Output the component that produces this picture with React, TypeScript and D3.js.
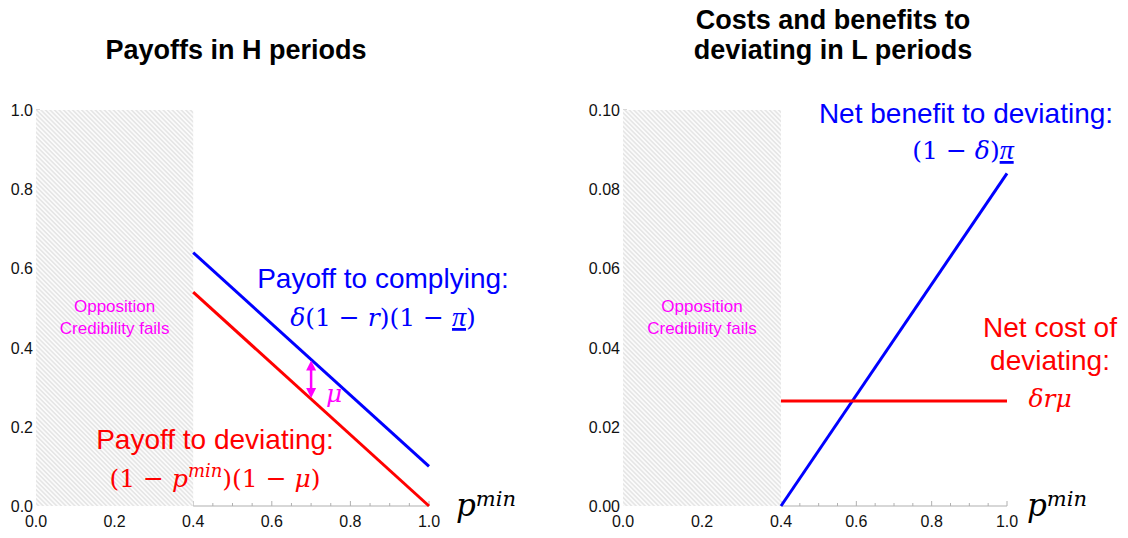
import React from "react";
import * as d3 from "d3";

// ---- data ----
const pMin = [0.4, 1.0];
const leftComply = [0.64, 0.1];
const leftDeviate = [0.54, 0.0];
const rightBenefit = [0.0, 0.084];
const rightCost = [0.0265, 0.0265];
const hatchRange = [0.0, 0.4];
const muArrowAt = 0.7;
const xTickValues = [0.0, 0.2, 0.4, 0.6, 0.8, 1.0];
const xTickLabels = ["0.0", "0.2", "0.4", "0.6", "0.8", "1.0"];
const xMinorTicks = [0.45, 0.5, 0.55, 0.65, 0.7, 0.75, 0.85, 0.9, 0.95];
const xMajorAxisTicks = [0.4, 0.6, 0.8, 1.0];
const yTicksLeft = [0.0, 0.2, 0.4, 0.6, 0.8, 1.0];
const yLabelsLeft = ["0.0", "0.2", "0.4", "0.6", "0.8", "1.0"];
const yTicksRight = [0.0, 0.02, 0.04, 0.06, 0.08, 0.1];
const yLabelsRight = ["0.00", "0.02", "0.04", "0.06", "0.08", "0.10"];

const BLUE = "#0000ff";
const RED = "#ff0000";
const MAG = "#ff00ff";
const SANS = "'Liberation Sans', Arial, sans-serif";
const MATH = "'DejaVu Serif', 'Liberation Serif', serif";
const PI_FONT = "'Liberation Serif', serif";

function Axes({ x, y, yTicks, yLabels, labelDx }: any) {
  const y0 = y(0);
  return (
    <g>
      <line x1={x(0.4)} x2={x(1)} y1={y0} y2={y0} stroke="#b0b0b0" strokeWidth={1.2} />
      {xMajorAxisTicks.map((t) => (
        <line key={"M" + t} x1={x(t)} x2={x(t)} y1={y0} y2={y0 - 5} stroke="#b0b0b0" strokeWidth={1} />
      ))}
      {xMinorTicks.map((t) => (
        <line key={"m" + t} x1={x(t)} x2={x(t)} y1={y0} y2={y0 - 3} stroke="#b0b0b0" strokeWidth={1} />
      ))}
      {xTickValues.map((t, i) => (
        <text key={"xl" + t} x={x(t)} y={y0 + 21} textAnchor="middle" fontFamily={SANS} fontSize={16} fill="#111">
          {xTickLabels[i]}
        </text>
      ))}
      {yTicks.map((t: number, i: number) => (
        <text key={"yl" + t} x={x(0) - 3} y={y(t) + 6} textAnchor="end" fontFamily={SANS} fontSize={16} fill="#111">
          {yLabels[i]}
        </text>
      ))}
      <line x1={x(0)} x2={x(0) + 4} y1={y(yTicks[yTicks.length - 1])} y2={y(yTicks[yTicks.length - 1])} stroke="#b0b0b0" strokeWidth={1} />
      <text x={x(1) + labelDx} y={y0 + 10} fontFamily={MATH} fontStyle="italic" fill="#000">
        <tspan fontSize={31}>p</tspan>
        <tspan fontSize={21} dy={-10}>min</tspan>
      </text>
    </g>
  );
}

function Hatch({ x, y, yTop }: any) {
  const x0 = x(hatchRange[0]);
  const x1 = x(hatchRange[1]);
  const cx = (x0 + x1) / 2;
  return (
    <g>
      <rect x={x0} y={y(yTop)} width={x1 - x0} height={y(0) - y(yTop)} fill="url(#hatch)" />
      <text x={cx} y={312} textAnchor="middle" fontFamily={SANS} fontSize={17} fill={MAG}>Opposition</text>
      <text x={cx} y={334} textAnchor="middle" fontFamily={SANS} fontSize={17} fill={MAG}>Credibility fails</text>
    </g>
  );
}

export default function App() {
  const xL = d3.scaleLinear().domain([0, 1]).range([36, 429]);
  const yL = d3.scaleLinear().domain([0, 1]).range([506, 110]);
  const xR = d3.scaleLinear().domain([0, 0.4, 1]).range([623, 781, 1007]);
  const yR = d3.scaleLinear().domain([0, 0.1]).range([506, 110]);

  const complyPath = d3.line<number>().x((_, i) => xL(pMin[i])).y((v) => yL(v))(leftComply) || "";
  const deviatePath = d3.line<number>().x((_, i) => xL(pMin[i])).y((v) => yL(v))(leftDeviate) || "";
  const benefitPath = d3.line<number>().x((_, i) => xR(pMin[i])).y((v) => yR(v))(rightBenefit) || "";
  const costPath = d3.line<number>().x((_, i) => xR(pMin[i])).y((v) => yR(v))(rightCost) || "";

  const complyAt = d3.scaleLinear().domain(pMin).range(leftComply)(muArrowAt);
  const deviateAt = d3.scaleLinear().domain(pMin).range(leftDeviate)(muArrowAt);
  const ax = xL(muArrowAt);
  const aTop = yL(complyAt);
  const aBot = yL(deviateAt);

  return (
    <svg width={1128} height={538} style={{ position: "fixed", left: 0, top: 0, background: "#fff" }}>
      <defs>
        <pattern id="hatch" patternUnits="userSpaceOnUse" width={3.2} height={3.2} patternTransform="rotate(45)">
          <rect width={3.2} height={3.2} fill="#fbfbfb" />
          <line x1={0} y1={0.8} x2={3.2} y2={0.8} stroke="#d6d6d6" strokeWidth={0.9} />
        </pattern>
      </defs>
      <rect width={1128} height={538} fill="#fff" />

      {/* Titles */}
      <text x={236} y={59} textAnchor="middle" fontFamily={SANS} fontWeight="bold" fontSize={27} fill="#000">Payoffs in H periods</text>
      <text x={833} y={29} textAnchor="middle" fontFamily={SANS} fontWeight="bold" fontSize={27} fill="#000">Costs and benefits to</text>
      <text x={833} y={59} textAnchor="middle" fontFamily={SANS} fontWeight="bold" fontSize={27} fill="#000">deviating in L periods</text>

      {/* Left panel */}
      <Axes x={xL} y={yL} yTicks={yTicksLeft} yLabels={yLabelsLeft} labelDx={27} />
      <Hatch x={xL} y={yL} yTop={1} />
      <path d={complyPath} stroke={BLUE} strokeWidth={3} fill="none" />
      <path d={deviatePath} stroke={RED} strokeWidth={3} fill="none" />
      <line x1={ax} x2={ax} y1={aTop + 9} y2={aBot - 9} stroke={MAG} strokeWidth={2.5} />
      <path d={`M${ax},${aTop + 1}l-5,10h10z`} fill={MAG} />
      <path d={`M${ax},${aBot - 1}l-5,-10h10z`} fill={MAG} />
      <text x={ax + 15} y={aBot + 3} fontFamily={MATH} fontStyle="italic" fontSize={25} fill={MAG}>μ</text>

      <text x={383} y={288} textAnchor="middle" fontFamily={SANS} fontSize={28} fill={BLUE}>Payoff to complying:</text>
      <text x={383} y={326} textAnchor="middle" fontFamily={MATH} fontSize={25} fill={BLUE}>
        <tspan fontStyle="italic">δ</tspan>(1 − <tspan fontStyle="italic">r</tspan>)(1 − <tspan fontFamily={PI_FONT} fontSize={28} fontStyle="italic" textDecoration="underline">π</tspan>)
      </text>

      <text x={215} y={449} textAnchor="middle" fontFamily={SANS} fontSize={28} fill={RED}>Payoff to deviating:</text>
      <text x={215} y={487} textAnchor="middle" fontFamily={MATH} fontSize={25} fill={RED}>
        (1 − <tspan fontStyle="italic">p</tspan><tspan fontStyle="italic" fontSize={18} dy={-10}>min</tspan><tspan dy={10}>)(1 − </tspan><tspan fontStyle="italic">μ</tspan>)
      </text>

      {/* Right panel */}
      <Axes x={xR} y={yR} yTicks={yTicksRight} yLabels={yLabelsRight} labelDx={20} />
      <Hatch x={xR} y={yR} yTop={0.1} />
      <path d={benefitPath} stroke={BLUE} strokeWidth={3} fill="none" />
      <path d={costPath} stroke={RED} strokeWidth={3} fill="none" />

      <text x={966} y={123} textAnchor="middle" fontFamily={SANS} fontSize={28} fill={BLUE}>Net benefit to deviating:</text>
      <text x={963} y={159} textAnchor="middle" fontFamily={MATH} fontSize={25} fill={BLUE}>
        (1 − <tspan fontStyle="italic">δ</tspan>)<tspan fontFamily={PI_FONT} fontSize={28} fontStyle="italic" textDecoration="underline">π</tspan>
      </text>

      <text x={1050} y={337} textAnchor="middle" fontFamily={SANS} fontSize={28} fill={RED}>Net cost of</text>
      <text x={1050} y={370} textAnchor="middle" fontFamily={SANS} fontSize={28} fill={RED}>deviating:</text>
      <text x={1050} y={407} textAnchor="middle" fontFamily={MATH} fontStyle="italic" fontSize={25} fill={RED}>δrμ</text>
    </svg>
  );
}
